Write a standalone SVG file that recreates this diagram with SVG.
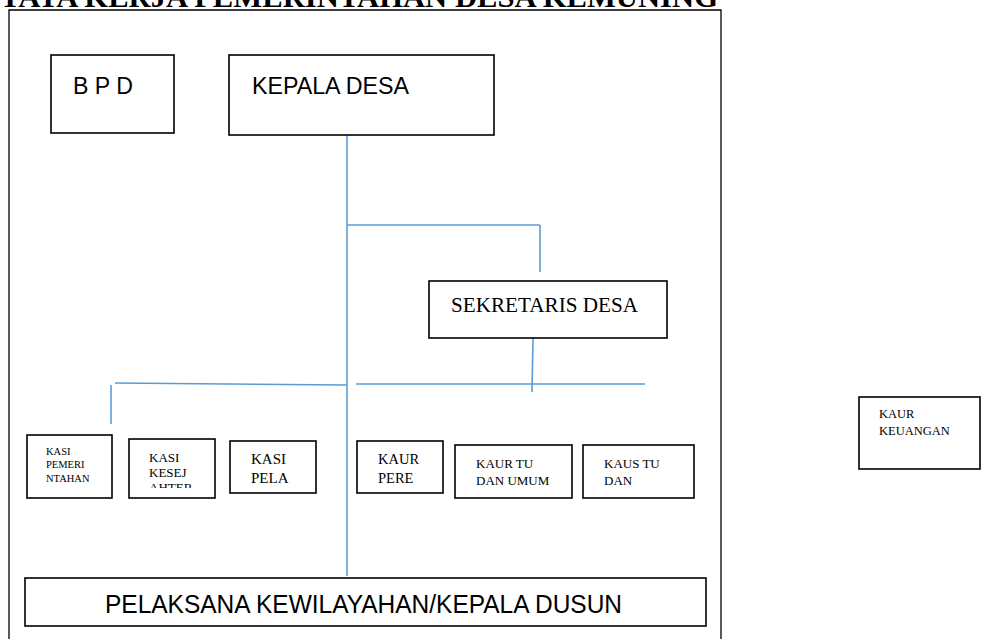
<svg xmlns="http://www.w3.org/2000/svg" width="985" height="639" viewBox="0 0 985 639">
<style>
.box{fill:#fff;stroke:#000;stroke-width:1.6}
.frame{fill:none;stroke:#000;stroke-width:1.3}
.sans{font-family:"Liberation Sans","Open Sans",sans-serif;fill:#000}
.serif{font-family:"Liberation Serif","Times New Roman",serif;fill:#000}
.conn line{stroke:#5b9bd5;stroke-width:1.6;fill:none}
</style>
<defs>
<clipPath id="clipKesej"><rect x="130" y="440" width="84" height="48"/></clipPath>
</defs>
<rect width="985" height="639" fill="#fff"/>
<text class="serif" x="0" y="7" font-size="29" font-weight="bold" textLength="718" lengthAdjust="spacingAndGlyphs">TATA KERJA PEMERINTAHAN DESA KEMUNING</text>
<path class="frame" d="M9,642 V10 H721 V642"/>
<g class="conn">
<line x1="347" y1="135" x2="347" y2="576"/>
<line x1="347" y1="225" x2="540" y2="225"/>
<line x1="540" y1="225" x2="540" y2="272"/>
<line x1="533" y1="338" x2="532" y2="392"/>
<line x1="356" y1="384" x2="645" y2="384"/>
<line x1="115" y1="383" x2="347" y2="385"/>
<line x1="111" y1="385" x2="111" y2="424"/>
</g>
<g id="bpd">
<rect class="box" x="51" y="55" width="123" height="78"/>
<text class="sans" x="73" y="94" font-size="23" textLength="60" lengthAdjust="spacingAndGlyphs">B P D</text>
</g>
<g id="kepala-desa">
<rect class="box" x="229" y="55" width="265" height="80"/>
<text class="sans" x="252" y="94" font-size="23" textLength="157" lengthAdjust="spacingAndGlyphs">KEPALA DESA</text>
</g>
<g id="sekretaris-desa">
<rect class="box" x="429" y="281" width="238" height="57"/>
<text class="serif" x="451" y="312" font-size="21" textLength="187" lengthAdjust="spacingAndGlyphs">SEKRETARIS DESA</text>
</g>
<g id="kasi-pemerintahan">
<rect class="box" x="27" y="435" width="85" height="63"/>
<text class="serif" font-size="10.5"><tspan x="46" y="455">KASI</tspan><tspan x="46" y="468">PEMERI</tspan><tspan x="46" y="482">NTAHAN</tspan></text>
</g>
<g id="kasi-kesejahteraan">
<rect class="box" x="129" y="439" width="86" height="59"/>
<text class="serif" font-size="13" clip-path="url(#clipKesej)"><tspan x="149" y="462">KASI</tspan><tspan x="149" y="477">KESEJ</tspan><tspan x="149" y="492">AHTER</tspan></text>
</g>
<g id="kasi-pelayanan">
<rect class="box" x="230" y="441" width="86" height="52"/>
<text class="serif" font-size="15"><tspan x="251" y="464">KASI</tspan><tspan x="251" y="483">PELA</tspan></text>
</g>
<g id="kaur-perencanaan">
<rect class="box" x="357" y="441" width="86" height="52"/>
<text class="serif" font-size="14.5"><tspan x="378" y="464">KAUR</tspan><tspan x="378" y="483">PERE</tspan></text>
</g>
<g id="kaur-tu-umum">
<rect class="box" x="455" y="445" width="117" height="53"/>
<text class="serif" font-size="13"><tspan x="476" y="468">KAUR TU</tspan><tspan x="476" y="485">DAN UMUM</tspan></text>
</g>
<g id="kaus-tu">
<rect class="box" x="583" y="445" width="111" height="53"/>
<text class="serif" font-size="13"><tspan x="604" y="468">KAUS TU</tspan><tspan x="604" y="485">DAN</tspan></text>
</g>
<g id="kaur-keuangan">
<rect class="box" x="859" y="397" width="121" height="72"/>
<text class="serif" font-size="12.5"><tspan x="879" y="418">KAUR</tspan><tspan x="879" y="435">KEUANGAN</tspan></text>
</g>
<g id="pelaksana-kewilayahan">
<rect class="box" x="25" y="578" width="681" height="48"/>
<text class="sans" x="105" y="613" font-size="25" textLength="517" lengthAdjust="spacingAndGlyphs">PELAKSANA KEWILAYAHAN/KEPALA DUSUN</text>
</g>
</svg>
